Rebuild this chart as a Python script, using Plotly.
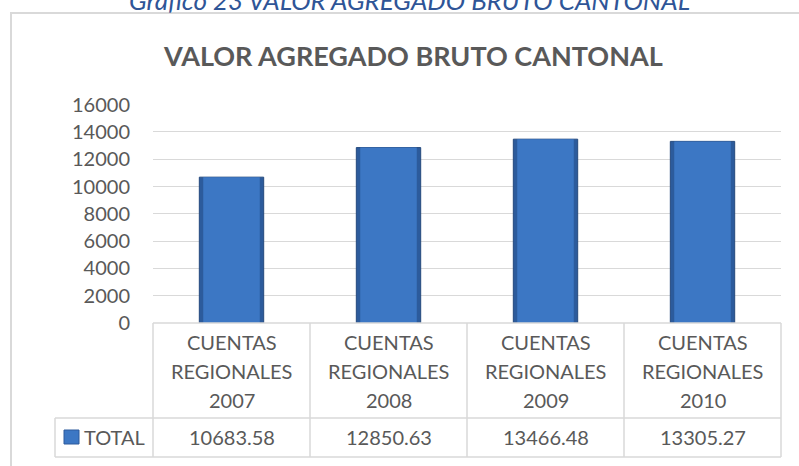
import plotly.graph_objects as go

# Valor agregado bruto cantonal por año de cuentas regionales
categorias = ["CUENTAS REGIONALES 2007", "CUENTAS REGIONALES 2008",
              "CUENTAS REGIONALES 2009", "CUENTAS REGIONALES 2010"]
total = [10683.58, 12850.63, 13466.48, 13305.27]
serie = "TOTAL"
y_ticks = [0, 2000, 4000, 6000, 8000, 10000, 12000, 14000, 16000]

W, H = 799, 466
FONT = "Lato"
GRIS = "#595959"
BORDE = "#D9D9D9"
AZUL_BORDE = "#2C5B9C"
AZUL = "#3C77C4"


def py(px):
    """pixel row -> paper y"""
    return 1 - px / H


# plot area in pixels
X0, X1 = 153, 781
Y_TOP, Y_ZERO = 104.6, 323
ROW1_BOTTOM, ROW2_BOTTOM = 418, 457
TOTAL_LEFT = 55

fig = go.Figure()
# bar body with darker bevelled edges
fig.add_trace(go.Bar(
    x=categorias, y=total, name=serie, width=0.41,
    marker=dict(color=AZUL_BORDE, line=dict(color="#24497D", width=1)),
    showlegend=False, hoverinfo="skip",
))
fig.add_trace(go.Bar(
    x=categorias, y=total, name=serie, width=0.36,
    marker=dict(color=AZUL, line=dict(width=0)),
    showlegend=False,
))

fig.update_layout(
    width=W, height=H,
    margin=dict(l=0, r=0, t=0, b=0, pad=0, autoexpand=False),
    paper_bgcolor="white", plot_bgcolor="white",
    font=dict(family=FONT, color=GRIS, size=20),
    barmode="overlay",
    showlegend=False,
    xaxis=dict(domain=[X0 / W, X1 / W], showticklabels=False, showgrid=False,
               zeroline=False, showline=False, range=[-0.5, 3.5], automargin=False),
    yaxis=dict(domain=[py(Y_ZERO), py(Y_TOP)], range=[0, 16000], automargin=False,
               tickvals=y_ticks, ticktext=[str(v) for v in y_ticks],
               showgrid=True, gridcolor=BORDE, gridwidth=1, zeroline=False,
               showline=False, ticklabelstandoff=22,
               tickfont=dict(family=FONT, size=20, color=GRIS)),
)

shapes = []
# outer chart frame
shapes.append(dict(type="rect", xref="paper", yref="paper",
                   x0=11 / W, x1=1.02, y0=-0.05, y1=py(13),
                   line=dict(color=BORDE, width=2), fillcolor="rgba(0,0,0,0)",
                   layer="below"))


def hline(xa, xb, ypx):
    shapes.append(dict(type="line", xref="x domain", yref="paper",
                       x0=xa, x1=xb, y0=py(ypx), y1=py(ypx),
                       line=dict(color=BORDE, width=1.5)))


def vline(xd, ya, yb):
    shapes.append(dict(type="line", xref="x domain", yref="paper",
                       x0=xd, x1=xd, y0=py(ya), y1=py(yb),
                       line=dict(color=BORDE, width=1.5)))


left_total = (TOTAL_LEFT - X0) / (X1 - X0)
n = len(categorias)
hline(0, 1, Y_ZERO)
hline(left_total, 1, ROW1_BOTTOM)
hline(left_total, 1, ROW2_BOTTOM)
for i in range(n + 1):
    vline(i / n, Y_ZERO, ROW2_BOTTOM)
vline(left_total, ROW1_BOTTOM, ROW2_BOTTOM)

# legend key inside the data table
shapes.append(dict(type="rect", xref="paper", yref="paper",
                   x0=64 / W, x1=79 / W, y0=py(444), y1=py(430),
                   line=dict(color=AZUL_BORDE, width=1), fillcolor=AZUL))
fig.update_layout(shapes=shapes)

ann = []
line_rows = [342, 371, 400]
for i, cat in enumerate(categorias):
    xc = (i + 0.5) / n
    parts = cat.split(" ")
    for txt, ypx in zip(parts, line_rows):
        ann.append(dict(text=txt, xref="x domain", yref="paper", x=xc, y=py(ypx),
                        xanchor="center", yanchor="middle", showarrow=False,
                        font=dict(family=FONT, size=20, color=GRIS)))
    ann.append(dict(text=f"{total[i]:.2f}", xref="x domain", yref="paper", x=xc,
                    y=py(437), xanchor="center", yanchor="middle", showarrow=False,
                    font=dict(family=FONT, size=20, color=GRIS)))

ann.append(dict(text=serie, xref="paper", yref="paper", x=82 / W, y=py(437),
                xanchor="left", yanchor="middle", showarrow=False,
                font=dict(family=FONT, size=20, color=GRIS)))

# chart title
ann.append(dict(text="<b>VALOR AGREGADO BRUTO CANTONAL</b>", xref="paper", yref="paper",
                x=413 / W, y=py(56), xanchor="center", yanchor="middle", showarrow=False,
                font=dict(family=FONT, size=27, color=GRIS)))

# figure caption above the frame
ann.append(dict(text="<i>Gráfico 23 VALOR AGREGADO BRUTO CANTONAL</i>", xref="paper",
                yref="paper", x=409 / W, y=py(0), xanchor="center", yanchor="middle",
                showarrow=False, font=dict(family=FONT, size=26, color="#2F5597")))

fig.update_layout(annotations=ann)
fig.write_html("out.html")
